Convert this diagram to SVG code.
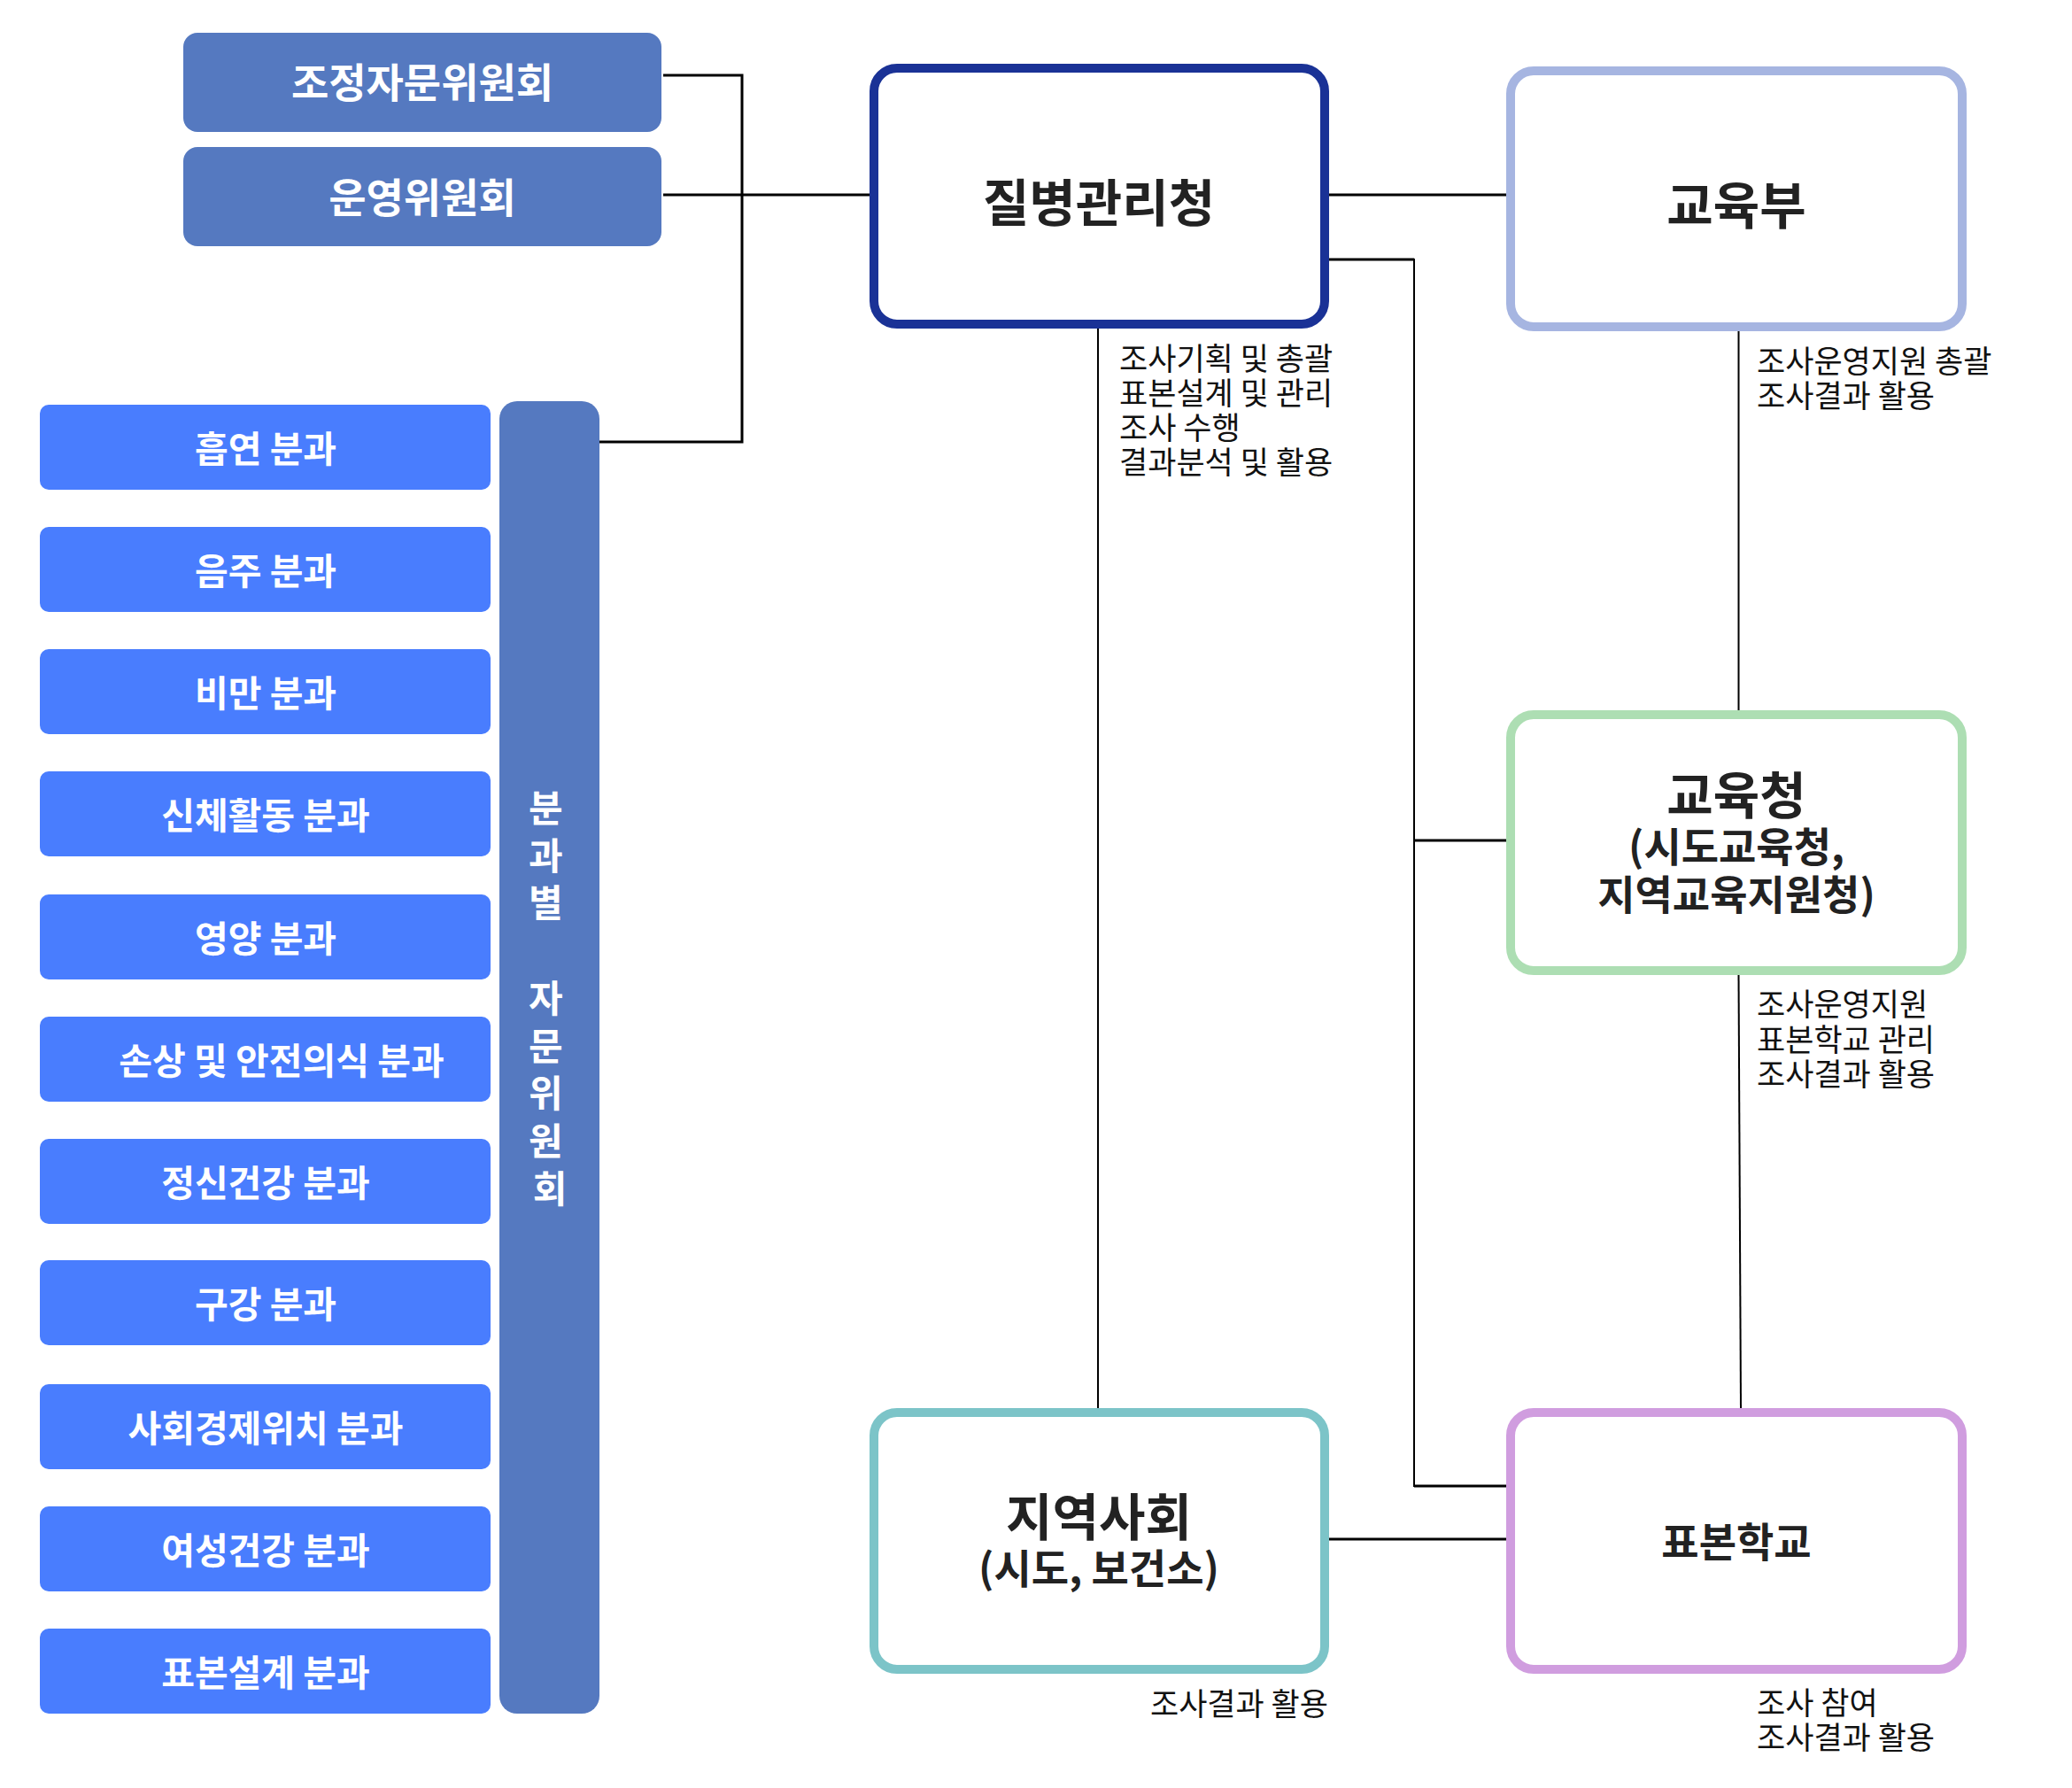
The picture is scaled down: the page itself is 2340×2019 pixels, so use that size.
<svg xmlns="http://www.w3.org/2000/svg" width="2340" height="2019" viewBox="0 0 2340 2019">
  <style>
    .cm { fill: #5579C0; }
    .sub { fill: #497DFE; }
    .wt { fill: #FFFFFF; font-family: "Noto Sans CJK KR", "Noto Sans", sans-serif; font-weight: 700; text-anchor: middle; }
    .org { fill: #FFFFFF; stroke-width: 10; }
    .ttl { fill: #222222; font-family: "Noto Sans CJK KR", "Noto Sans", sans-serif; font-weight: 700; text-anchor: middle; }
    .lbl { fill: #111111; font-family: "Noto Sans CJK KR", "Noto Sans", sans-serif; font-weight: 400; font-size: 35px; }
    .ln { fill: none; stroke: #000000; stroke-linejoin: miter; }
    .h { stroke-width: 3; }
    .v { stroke-width: 2; }
  </style>

  <rect width="2340" height="2019" fill="#FFFFFF"/>

  <!-- connectors -->
  <g id="connectors">
    <polyline class="ln h" points="749,85 838,85 838,499 677,499"/>
    <line class="ln h" x1="749" y1="220" x2="982" y2="220"/>
    <line class="ln h" x1="1501" y1="220" x2="1701" y2="220"/>
    <polyline class="ln v" points="1501,293 1597,293 1597,1678 1701,1678"/>
    <line class="ln h" x1="1597" y1="949" x2="1701" y2="949"/>
    <line class="ln h" x1="1597" y1="293" x2="1501" y2="293"/>
    <line class="ln h" x1="1597" y1="1678" x2="1701" y2="1678"/>
    <line class="ln v" x1="1240" y1="371" x2="1240" y2="1590"/>
    <line class="ln v" x1="1963.5" y1="374" x2="1963.5" y2="802"/>
    <line class="ln v" x1="1963.5" y1="1101" x2="1966" y2="1590"/>
    <line class="ln h" x1="1501" y1="1738" x2="1701" y2="1738"/>
  </g>

  <!-- advisory committees -->
  <g id="node-coord-committee">
    <rect class="cm" x="207" y="37" width="540" height="112" rx="16"/>
    <text class="wt" x="477" y="110" font-size="46">조정자문위원회</text>
  </g>
  <g id="node-steering-committee">
    <rect class="cm" x="207" y="166" width="540" height="112" rx="16"/>
    <text class="wt" x="477" y="240" font-size="46">운영위원회</text>
  </g>

  <!-- subcommittee column -->
  <g id="node-subcommittee-bar">
    <rect class="cm" x="564" y="453" width="113" height="1482" rx="20"/>
    <text class="wt" x="621" y="928" font-size="42">
      <tspan x="621" y="928">분</tspan>
      <tspan x="621" y="981.7">과</tspan>
      <tspan x="621" y="1035.4">별</tspan>
      <tspan x="621" y="1142.8">자</tspan>
      <tspan x="621" y="1196.5">문</tspan>
      <tspan x="621" y="1250.2">위</tspan>
      <tspan x="621" y="1303.9">원</tspan>
      <tspan x="621" y="1357.6">회</tspan>
    </text>
  </g>

  <g id="node-sub-smoking">
    <rect class="sub" x="45" y="457" width="509" height="96" rx="10"/>
    <text class="wt" x="300" y="522" font-size="41">흡연 분과</text>
  </g>
  <g id="node-sub-drinking">
    <rect class="sub" x="45" y="595" width="509" height="96" rx="10"/>
    <text class="wt" x="300" y="660" font-size="41">음주 분과</text>
  </g>
  <g id="node-sub-obesity">
    <rect class="sub" x="45" y="733" width="509" height="96" rx="10"/>
    <text class="wt" x="300" y="798" font-size="41">비만 분과</text>
  </g>
  <g id="node-sub-activity">
    <rect class="sub" x="45" y="871" width="509" height="96" rx="10"/>
    <text class="wt" x="300" y="936" font-size="41">신체활동 분과</text>
  </g>
  <g id="node-sub-nutrition">
    <rect class="sub" x="45" y="1010" width="509" height="96" rx="10"/>
    <text class="wt" x="300" y="1075" font-size="41">영양 분과</text>
  </g>
  <g id="node-sub-injury">
    <rect class="sub" x="45" y="1148" width="509" height="96" rx="10"/>
    <text class="wt" x="318" y="1213" font-size="41">손상 및 안전의식 분과</text>
  </g>
  <g id="node-sub-mental">
    <rect class="sub" x="45" y="1286" width="509" height="96" rx="10"/>
    <text class="wt" x="300" y="1351" font-size="41">정신건강 분과</text>
  </g>
  <g id="node-sub-oral">
    <rect class="sub" x="45" y="1423" width="509" height="96" rx="10"/>
    <text class="wt" x="300" y="1488" font-size="41">구강 분과</text>
  </g>
  <g id="node-sub-ses">
    <rect class="sub" x="45" y="1563" width="509" height="96" rx="10"/>
    <text class="wt" x="300" y="1628" font-size="41">사회경제위치 분과</text>
  </g>
  <g id="node-sub-women">
    <rect class="sub" x="45" y="1701" width="509" height="96" rx="10"/>
    <text class="wt" x="300" y="1766" font-size="41">여성건강 분과</text>
  </g>
  <g id="node-sub-sampling">
    <rect class="sub" x="45" y="1839" width="509" height="96" rx="10"/>
    <text class="wt" x="300" y="1904" font-size="41">표본설계 분과</text>
  </g>

  <!-- organisations -->
  <g id="node-kdca">
    <rect class="org" x="987" y="77" width="509" height="289" rx="26" stroke="#1A3296"/>
    <text class="ttl" x="1241" y="250" font-size="57">질병관리청</text>
    <text class="lbl" x="1264">
      <tspan x="1264" y="418">조사기획 및 총괄</tspan>
      <tspan x="1264" y="457">표본설계 및 관리</tspan>
      <tspan x="1264" y="496">조사 수행</tspan>
      <tspan x="1264" y="535">결과분석 및 활용</tspan>
    </text>
  </g>

  <g id="node-moe">
    <rect class="org" x="1706" y="80" width="510" height="289" rx="26" stroke="#A6B5E1"/>
    <text class="ttl" x="1961" y="253" font-size="57">교육부</text>
    <text class="lbl" x="1984">
      <tspan x="1984" y="421">조사운영지원 총괄</tspan>
      <tspan x="1984" y="460">조사결과 활용</tspan>
    </text>
  </g>

  <g id="node-edu-office">
    <rect class="org" x="1706" y="807" width="510" height="289" rx="26" stroke="#ADDEB3"/>
    <text class="ttl" x="1961" y="919" font-size="57">교육청</text>
    <text class="ttl" x="1961" y="973" font-size="46">(시도교육청,</text>
    <text class="ttl" x="1961" y="1027" font-size="46">지역교육지원청)</text>
    <text class="lbl" x="1984">
      <tspan x="1984" y="1147">조사운영지원</tspan>
      <tspan x="1984" y="1187">표본학교 관리</tspan>
      <tspan x="1984" y="1226">조사결과 활용</tspan>
    </text>
  </g>

  <g id="node-community">
    <rect class="org" x="987" y="1595" width="509" height="290" rx="26" stroke="#7CC4C8"/>
    <text class="ttl" x="1241" y="1734" font-size="57">지역사회</text>
    <text class="ttl" x="1241" y="1788" font-size="46">(시도, 보건소)</text>
    <text class="lbl" x="1500" y="1937" text-anchor="end">조사결과 활용</text>
  </g>

  <g id="node-sample-school">
    <rect class="org" x="1706" y="1595" width="510" height="290" rx="26" stroke="#D09DDF"/>
    <text class="ttl" x="1961" y="1758" font-size="46">표본학교</text>
    <text class="lbl" x="1984">
      <tspan x="1984" y="1936">조사 참여</tspan>
      <tspan x="1984" y="1975">조사결과 활용</tspan>
    </text>
  </g>
</svg>
